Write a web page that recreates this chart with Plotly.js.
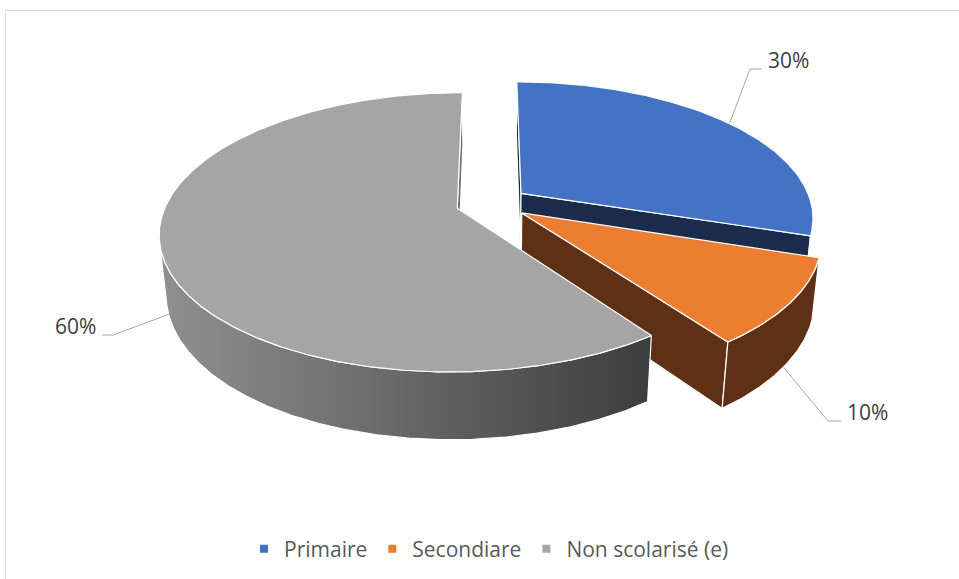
<!DOCTYPE html>
<html><head><meta charset="utf-8">
<script src="https://cdn.plot.ly/plotly-3.0.1.min.js"></script>
<style>html,body{margin:0;padding:0;background:#fff;} #chart{width:959px;height:579px;}</style>
</head><body><div id="chart"></div>
<script>
// ---- data ----
const categories = ['Primaire', 'Secondiare', 'Non scolarisé (e)'];
const values = [30, 10, 60];
const labelTexts = ['30%', '10%', '60%'];

// ---- style ----
const topColors = ['#4472C4', '#ED7D31', '#A5A5A5'];
const sideColors = ['#1B2B4B', '#5E3116', '#6e6e6e'];
const wallGradient = [null, null, [[0, '#909090'], [1, '#3d3d3d']]];
const W = 959, H = 579;
const cam = {X0: 492, Y0: 203, f: 1505, D: 5.18, alpha: 27.4 * Math.PI / 180};
const thick = 0.235, explode = 0.125;
const sa = Math.sin(cam.alpha), ca = Math.cos(cam.alpha);
const camPos = {u: 0, w: -cam.D * ca};
// label leader layout: elbow point, end point, text side
const labelLayout = [
  {ex: 750, ey: 69, tx: 762, side: 'left'},
  {ex: 828, ey: 421, tx: 841, side: 'left'},
  {ex: 113, ey: 335, tx: 102, side: 'right'}
];
const rad = Math.PI / 180;

function proj(u, w, h) {
  const d = cam.D + w * ca - h * sa;
  return [cam.X0 + cam.f * u / d, cam.Y0 - cam.f * (h * ca + w * sa) / d];
}

const total = values.reduce((a, b) => a + b, 0);
let acc = 0;
const slices = values.map((v, i) => {
  const a0 = acc / total * 360;
  acc += v;
  const a1 = acc / total * 360;
  const mid = (a0 + a1) / 2;
  return {i, a0, a1, mid, cu: explode * Math.sin(mid * rad), cw: explode * Math.cos(mid * rad)};
});

function rim(s, phi, h) {
  return proj(s.cu + Math.sin(phi * rad), s.cw + Math.cos(phi * rad), h);
}
function wallVisible(s, phi) {
  const nu = Math.sin(phi * rad), nw = Math.cos(phi * rad);
  const pu = s.cu + nu, pw = s.cw + nw;
  return nu * (camPos.u - pu) + nw * (camPos.w - pw) > 0;
}
function faceVisible(s, psi) {
  const nu = Math.sin(psi * rad), nw = Math.cos(psi * rad);
  return nu * (camPos.u - s.cu) + nw * (camPos.w - s.cw) > 0;
}
function poly(pts, fill, grad) {
  const t = {
    type: 'scatter', mode: 'lines', x: pts.map(p => p[0]), y: pts.map(p => p[1]),
    fill: 'toself', fillcolor: fill, line: {color: '#ffffff', width: 1.2},
    hoverinfo: 'skip', showlegend: false
  };
  if (grad) {
    const xs = pts.map(p => p[0]);
    t.fillgradient = {type: 'horizontal', colorscale: grad, start: Math.min(...xs), stop: Math.max(...xs)};
  }
  return t;
}

const traces = [];
slices.forEach(s => {
  const apexT = proj(s.cu, s.cw, 0), apexB = proj(s.cu, s.cw, -thick);
  // radial faces
  [[s.a0, s.a0 - 90], [s.a1, s.a1 + 90]].forEach(([phi, psi]) => {
    if (faceVisible(s, psi)) {
      traces.push(poly([apexT, rim(s, phi, 0), rim(s, phi, -thick), apexB, apexT], sideColors[s.i]));
    }
  });
  // outer wall
  const vis = [];
  const n = Math.ceil((s.a1 - s.a0) / 0.5);
  for (let k = 0; k <= n; k++) {
    const phi = s.a0 + (s.a1 - s.a0) * k / n;
    if (wallVisible(s, phi)) vis.push(phi);
  }
  if (vis.length > 1) {
    const pts = vis.map(p => rim(s, p, 0)).concat(vis.slice().reverse().map(p => rim(s, p, -thick)));
    pts.push(pts[0]);
    traces.push(poly(pts, sideColors[s.i], wallGradient[s.i]));
  }
  // top face
  const topPts = [apexT];
  for (let k = 0; k <= n; k++) topPts.push(rim(s, s.a0 + (s.a1 - s.a0) * k / n, 0));
  topPts.push(apexT);
  traces.push(poly(topPts, topColors[s.i]));
});

// leader lines + labels
const annotations = [];
slices.forEach(s => {
  const L = labelLayout[s.i];
  const start = wallVisible(s, s.mid) ? rim(s, s.mid, -thick) : rim(s, s.mid, 0);
  traces.push({type: 'scatter', mode: 'lines', x: [start[0], L.ex, L.tx], y: [start[1], L.ey, L.ey],
    line: {color: '#A6A6A6', width: 1}, hoverinfo: 'skip', showlegend: false});
  annotations.push({x: L.side === 'left' ? L.tx + 4 : L.tx - 4, y: L.ey - 9.5, xref: 'x', yref: 'y',
    text: labelTexts[s.i], showarrow: false, xanchor: L.side, yanchor: 'middle',
    font: {family: 'Open Sans', size: 21, color: '#404040'}});
});

// legend entries
categories.forEach((c, i) => {
  traces.push({type: 'scatter', mode: 'markers', x: [null], y: [null], name: c,
    marker: {symbol: 'square', size: 8, color: topColors[i]}, hoverinfo: 'skip'});
});

const layout = {
  width: W, height: H, margin: {l: 0, r: 0, t: 0, b: 0},
  paper_bgcolor: '#ffffff', plot_bgcolor: '#ffffff',
  xaxis: {range: [0, W], visible: false, fixedrange: true},
  yaxis: {range: [H, 0], visible: false, fixedrange: true},
  showlegend: true,
  legend: {orientation: 'h', x: 244 / W, xanchor: 'left', y: 1 - 549 / H, yanchor: 'middle',
    font: {family: 'Open Sans', size: 21, color: '#595959'}, bgcolor: 'rgba(0,0,0,0)', traceorder: 'normal'},
  annotations: annotations,
  shapes: [{type: 'rect', xref: 'x', yref: 'y', x0: 5.5, y0: 10.5, x1: 975, y1: 600,
    line: {color: '#D9D9D9', width: 1}, fillcolor: 'rgba(0,0,0,0)', layer: 'below'}]
};
Plotly.newPlot('chart', traces, layout, {displayModeBar: false, staticPlot: true});
</script>
</body></html>
